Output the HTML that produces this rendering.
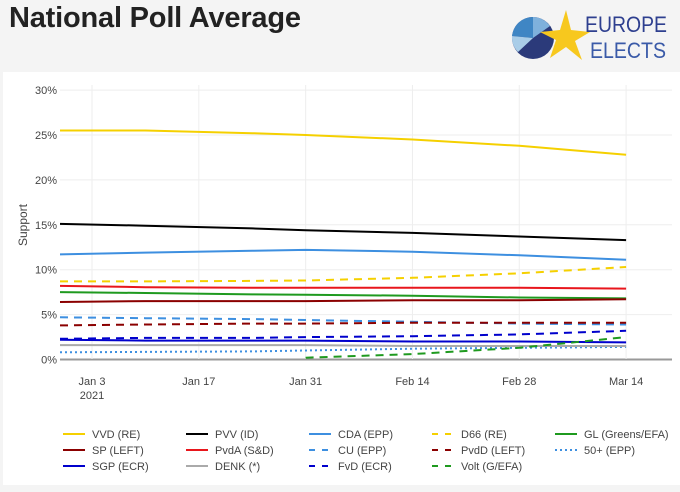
<!DOCTYPE html>
<html><head><meta charset="utf-8"><style>
body{margin:0;width:680px;height:492px;background:#f4f4f4;font-family:"Liberation Sans",sans-serif;overflow:hidden;position:relative}
#title{position:absolute;left:9px;top:2px;font-size:29px;font-weight:bold;color:#222;letter-spacing:-0.2px}
#card{position:absolute;left:3px;top:72px;width:677px;height:413px;background:#fff}
svg{position:absolute;left:0;top:0}
</style></head><body>
<div id="title">National Poll Average</div>
<div id="card"></div>
<svg width="680" height="492" id="chart">
<g>
<circle cx="533" cy="38" r="21" fill="#2b3a7a"/>
<path d="M533,38 L533,17 A21,21 0 0 0 512,36 Z" fill="#3f86c4"/>
<path d="M533,38 L512,36 A21,21 0 0 0 518,52 Z" fill="#a9cde8"/>
<path d="M533,38 L533,17 A21,21 0 0 1 550,26 Z" fill="#7fb1dc"/>
<polygon points="566,10 571,30 590,32 575,41 582,60 566,47 550,58 556,40 540,32 560,30" fill="#f7c81e"/>
<text x="585" y="32" font-size="22" fill="#2e3f8f" font-family="Liberation Sans" textLength="82" lengthAdjust="spacingAndGlyphs">EUROPE</text>
<text x="590" y="58" font-size="22" fill="#3a5aa8" font-family="Liberation Sans" textLength="76" lengthAdjust="spacingAndGlyphs">ELECTS</text>
</g>
<g id="grid"></g><g id="lines"></g><g id="axes"></g><g id="legend"></g>
</svg>
<script>
const days = [-4.2, 7, 21, 28, 42, 56, 70];
const xTickDays = [0, 14, 28, 42, 56, 70];
const xTickLabels = ["Jan 3", "Jan 17", "Jan 31", "Feb 14", "Feb 28", "Mar 14"];
const yTicks = [0, 5, 10, 15, 20, 25, 30];
const vvd = [25.5, 25.5, 25.2, 25.0, 24.5, 23.8, 22.8];
const pvv = [15.1, 14.9, 14.6, 14.4, 14.1, 13.7, 13.3];
const cda = [11.7, 11.9, 12.1, 12.2, 12.0, 11.6, 11.1];
const d66 = [8.7, 8.7, 8.75, 8.8, 9.1, 9.6, 10.3];
const gl = [7.5, 7.4, 7.25, 7.2, 7.1, 6.9, 6.8];
const sp = [6.4, 6.5, 6.5, 6.5, 6.6, 6.6, 6.7];
const pvda = [8.2, 8.05, 8.0, 8.0, 8.0, 8.0, 7.9];
const cu = [4.7, 4.6, 4.5, 4.4, 4.2, 4.0, 3.9];
const pvdd = [3.8, 3.9, 4.0, 4.0, 4.1, 4.1, 4.1];
const plus50 = [0.8, 0.85, 0.9, 1.0, 1.2, 1.3, 1.4];
const sgp = [2.2, 2.1, 2.1, 2.1, 2.0, 2.0, 1.9];
const denk = [1.6, 1.6, 1.6, 1.6, 1.5, 1.5, 1.5];
const fvd = [2.3, 2.4, 2.4, 2.5, 2.6, 2.8, 3.2];
const volt = [null, null, null, 0.2, 0.6, 1.3, 2.5];
const series = [
 ["VVD (RE)", vvd, "#f5d000", ""], ["PVV (ID)", pvv, "#000", ""], ["CDA (EPP)", cda, "#3d8fe0", ""],
 ["D66 (RE)", d66, "#f5d000", "8,6"], ["GL (Greens/EFA)", gl, "#1f9a1f", ""],
 ["SP (LEFT)", sp, "#8b0000", ""], ["PvdA (S&D)", pvda, "#e8161c", ""], ["CU (EPP)", cu, "#3d8fe0", "8,6"],
 ["PvdD (LEFT)", pvdd, "#8b0000", "8,6"], ["50+ (EPP)", plus50, "#3d8fe0", "2,3"],
 ["SGP (ECR)", sgp, "#0000cc", ""], ["DENK (*)", denk, "#aaaaaa", ""], ["FvD (ECR)", fvd, "#0000cc", "8,6"],
 ["Volt (G/EFA)", volt, "#1f9a1f", "8,6"]
];
const X0 = 92, PXDAY = 7.63, Y0 = 359.5, PXPCT = 8.98;
const xs = d => X0 + d * PXDAY, ys = v => Y0 - v * PXPCT;
const NS = "http://www.w3.org/2000/svg";
function mk(tag, attrs, parent) { const e = document.createElementNS(NS, tag); for (const k in attrs) e.setAttribute(k, attrs[k]); parent.appendChild(e); return e; }
const grid = document.getElementById('grid'), lines = document.getElementById('lines'), axes = document.getElementById('axes'), legend = document.getElementById('legend');
yTicks.forEach(t => {
  const l = mk('line', {x1: 60, x2: 672, y1: ys(t), y2: ys(t), stroke: t === 0 ? '#999' : '#eee', 'stroke-width': t === 0 ? 2 : 1}, grid);
  
  
  const tx = mk('text', {x: 57, y: ys(t) + 4, 'text-anchor': 'end', 'font-size': 11, fill: '#444'}, axes);
  tx.textContent = t + '%';
  
  
});
xTickDays.forEach((d, i) => {
  const l = mk('line', {x1: xs(d), x2: xs(d), y1: 85, y2: 359, stroke: '#eee'}, grid);
  
  
  const tx = mk('text', {x: xs(d), y: 385, 'text-anchor': 'middle', 'font-size': 11, fill: '#444'}, axes);
  tx.textContent = xTickLabels[i];
  
  
});
const yr = mk('text', {x: xs(0), y: 399, 'text-anchor': 'middle', 'font-size': 11, fill: '#444'}, axes);
yr.textContent = '2021';


const yt = mk('text', {x: 0, y: 0, transform: 'translate(27,225) rotate(-90)', 'text-anchor': 'middle', 'font-size': 12, fill: '#444'}, axes);
yt.textContent = 'Support';


series.forEach((s, i) => {
  const pts = [];
  s[1].forEach((v, j) => { if (v !== null) pts.push(xs(days[j]).toFixed(1) + ',' + ys(v).toFixed(1)); });
  const p = mk('polyline', {points: pts.join(' '), fill: 'none', stroke: s[2], 'stroke-width': 2, 'stroke-dasharray': s[3] || 'none'}, lines);
  
  
  const col = i % 5, row = Math.floor(i / 5);
  const lx = 63 + col * 123, ly = 434 + row * 16;
  const g = mk('g', {}, legend);
  
  
  mk('line', {x1: lx, x2: lx + 22, y1: ly, y2: ly, stroke: s[2], 'stroke-width': 2, 'stroke-dasharray': s[3] === '8,6' ? '6,7' : (s[3] || 'none')}, g);
  const t = mk('text', {x: lx + 29, y: ly + 4, 'font-size': 11, fill: '#444'}, g);
  t.textContent = s[0];
});
</script>
</body></html>
